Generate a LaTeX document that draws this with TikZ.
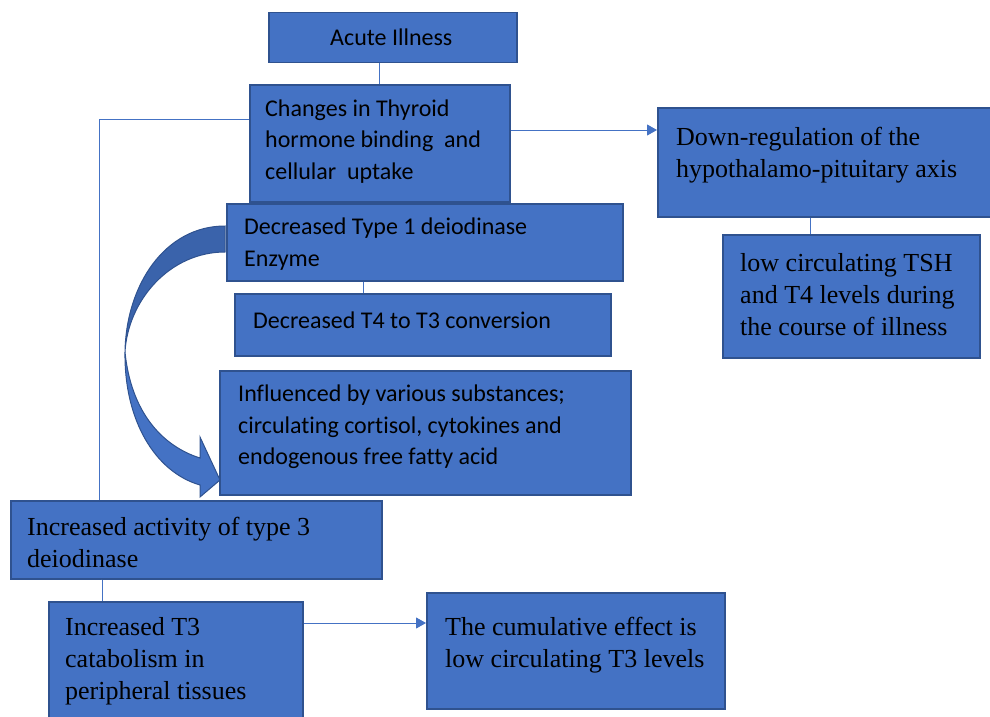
\documentclass[tikz,border=0pt]{standalone}
\usepackage{fontspec}
\setmainfont{Liberation Serif}
\newfontfamily\carl[Ligatures=NoCommon]{Carlito}
\usetikzlibrary{arrows.meta}
\definecolor{wblue}{HTML}{4472C4}
\definecolor{wedge}{HTML}{2F528F}
\definecolor{wdark}{HTML}{3A63AB}
\begin{document}
\begin{tikzpicture}[x=1pt,y=-1pt,
  box/.style={draw=wedge, fill=wblue, line width=1.5pt, inner sep=0pt, anchor=north west},
  txs/.style={anchor=west, align=left, inner sep=0pt, font=\carl\fontsize{24}{31.5}\selectfont},
  txr/.style={anchor=west, align=left, inner sep=0pt, font=\fontsize{26}{32}\selectfont},
  link/.style={draw=wblue, line width=1pt},
  linkarrow/.style={link, -{Triangle[length=10pt,width=11pt]}}]
\useasboundingbox (0,0) rectangle (990,717);

\coordinate (k1) at (99,119);
\coordinate (k2) at (583,130);
\coordinate (k3) at (810,220);
\coordinate (k4) at (363,285);
\coordinate (k5) at (101,590);
\coordinate (k6) at (360,623);

% boxes
\node[box, minimum width=248pt, minimum height=50pt] (acute) at (268,12) {};
\node[box, minimum width=260pt, minimum height=117pt] (chg) at (249,84) {};
\node[box, minimum width=345pt, minimum height=109pt] (dr) at (657,107) {};
\node[box, minimum width=257pt, minimum height=123pt] (lc) at (722,234) {};
\node[box, minimum width=376pt, minimum height=62pt] (t4) at (234,293) {};
\node[box, minimum width=396pt, minimum height=77pt] (t1) at (226,203) {};
\node[box, minimum width=411pt, minimum height=124pt] (inf) at (219,370) {};
\node[box, minimum width=371pt, minimum height=78pt] (b8) at (10,500) {};
\node[box, minimum width=254pt, minimum height=130pt] (b9) at (48,601) {};
\node[box, minimum width=298pt, minimum height=116pt] (b10) at (426,592) {};

% connectors
\draw[link] (chg.north) -- (chg.north |- acute.south);
\draw[link] (chg.west |- k1) -- (k1) -- (k1 |- b8.north);
\draw[linkarrow] (chg.east |- k2) -- (dr.west |- k2);
\draw[link] (k3 |- dr.south) -- (k3 |- lc.north);
\draw[link] (k4 |- t1.south) -- (k4 |- t4.north);
\draw[draw=wblue, line width=0.8pt, double=white, double distance=1.4pt] (k5 |- b8.south) -- (k5 |- b9.north);
\draw[linkarrow] (b9.east |- k6) -- (b10.west |- k6);

% curved arrow
\fill[wdark, draw=wedge, line width=1pt] (225,226) .. controls (165,226) and (126,285) .. (125,352)
   .. controls (128,300) and (170,252) .. (225,252) -- cycle;
\fill[wblue, draw=wedge, line width=1pt] (125,352) .. controls (124,420) and (155,472) .. (200,485)
   -- (200,497) -- (220,480) -- (200,437) -- (200,458)
   .. controls (162,446) and (131,412) .. (125,352) -- cycle;

% texts
\node[txs] (tacute) at (330,37) {Acute Illness};
\node[txs] (tchg) at (265,141.5) {Changes in Thyroid\\hormone binding\ \ and\\cellular\ \ uptake};
\node[txr] (tdr) at (676,155) {Down-regulation of the\\hypothalamo-pituitary axis};
\node[txr] (tlc) at (740,294.5) {low circulating TSH\\and T4 levels during\\the course of illness};
\node[txs] (tt1) at (244,244) {Decreased Type 1 deiodinase\\Enzyme};
\node[txs] (tt4) at (253,320) {Decreased T4 to T3 conversion};
\node[txs] (tinf) at (238,427) {Influenced by various substances;\\circulating cortisol, cytokines and\\endogenous free fatty acid};
\node[txr] (tb8) at (27,542) {Increased activity of type 3\\deiodinase};
\node[txr] (tb9) at (65,661) {Increased T3\\catabolism in\\peripheral tissues};
\node[txr] (tb10) at (445,645) {The cumulative effect is\\low circulating T3 levels};
\end{tikzpicture}
\end{document}
